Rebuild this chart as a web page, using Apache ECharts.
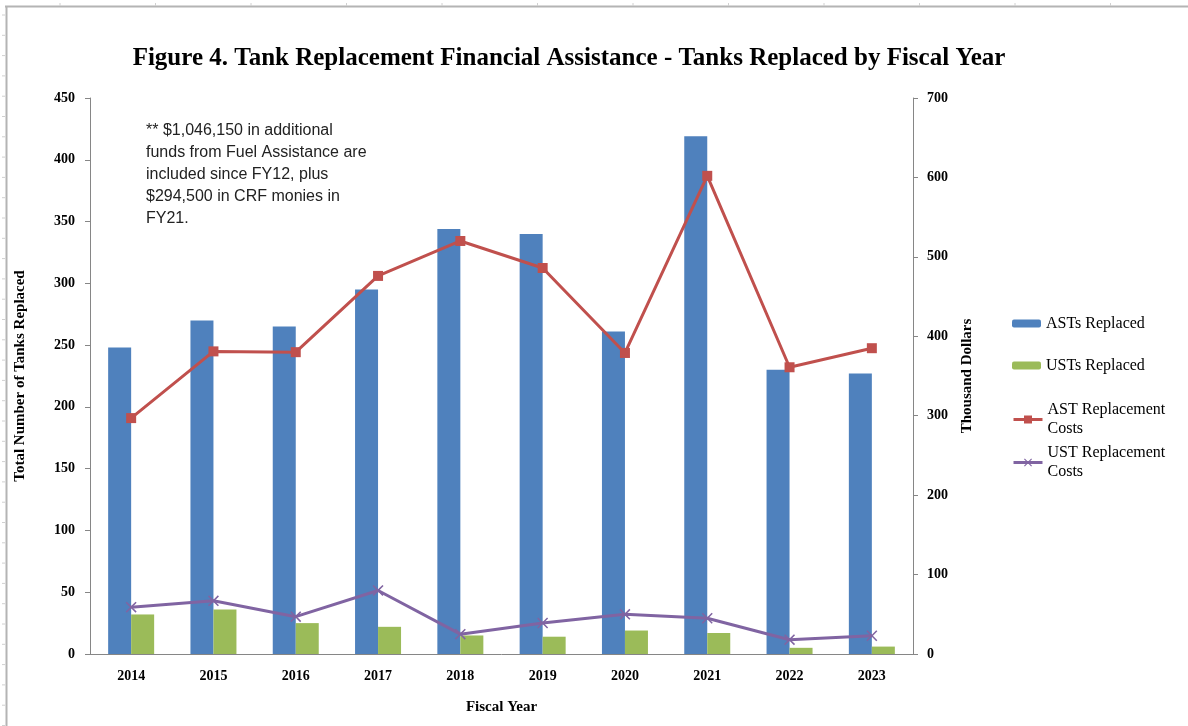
<!DOCTYPE html>
<html>
<head>
<meta charset="utf-8">
<script src="https://cdn.jsdelivr.net/npm/echarts@6/dist/echarts.min.js"></script>
<style>
  html, body { margin: 0; padding: 0; background: #fff; }
  #chart { width: 1188px; height: 726px; }
</style>
</head>
<body>
<div id="chart"></div>
<script>
// data
const years = ['2014', '2015', '2016', '2017', '2018', '2019', '2020', '2021', '2022', '2023'];
const astReplaced = [248, 270, 265, 295, 344, 340, 261, 419, 230, 227];
const ustReplaced = [32, 36, 25, 22, 15, 14, 19, 17, 5, 6];
const astCost = [297, 381, 380, 476, 520, 486, 379, 602, 361, 385]; // thousand dollars
const ustCost = [59, 67, 47, 80, 25, 39, 50, 45, 18, 23];
const note = '** $1,046,150 in additional\nfunds from Fuel Assistance are\nincluded since FY12, plus\n$294,500 in CRF monies in\nFY21.';

const serif = '"Liberation Serif", "DejaVu Serif", serif';
const axisGray = '#868686';
const xMark = 'path://M0,1L1,0L5,4L9,0L10,1L6,5L10,9L9,10L5,6L1,10L0,9L4,5Z';

// sheet border + faint cell ticks around the chart object
let frame = [
  { type: 'line', shape: { x1: 5, y1: 6.5, x2: 1188, y2: 6.5 }, style: { stroke: '#b4b4b4', lineWidth: 2 } },
  { type: 'line', shape: { x1: 6.5, y1: 6, x2: 6.5, y2: 726 }, style: { stroke: '#b4b4b4', lineWidth: 2 } }
];
for (let x = 60; x < 1188; x += 95.5) {
  frame.push({ type: 'line', shape: { x1: x, y1: 3, x2: x, y2: 6 }, style: { stroke: '#d0d0d0', lineWidth: 1 } });
}
for (let y = 15; y < 726; y += 20.3) {
  frame.push({ type: 'line', shape: { x1: 2, y1: y, x2: 5, y2: y }, style: { stroke: '#d0d0d0', lineWidth: 1 } });
}

function legendAt(name, top, twoLine, isLine) {
  return {
    data: [name],
    orient: 'vertical',
    left: 1007,
    top: top,
    itemWidth: 29,
    itemHeight: isLine ? 10 : 8,
    itemGap: 0,
    lineStyle: { width: 3 },
    formatter: n => twoLine ? n.replace(' Costs', '\nCosts') : n,
    textStyle: {
      fontFamily: serif, fontSize: 16, color: '#000',
      lineHeight: 19,
      padding: twoLine ? [19, 0, 0, 0] : 0
    }
  };
}

const chart = echarts.init(document.getElementById('chart'));
chart.setOption({
  animation: false,
  backgroundColor: '#fff',
  title: {
    text: 'Figure 4. Tank Replacement Financial Assistance - Tanks Replaced by Fiscal Year',
    left: 564,
    textAlign: 'center',
    top: 41,
    textStyle: { fontFamily: serif, fontWeight: 'bold', fontSize: 25, color: '#000' }
  },
  legend: [
    legendAt('ASTs Replaced', 309, false, false),
    legendAt('USTs Replaced', 351, false, false),
    legendAt('AST Replacement Costs', 386, true, true),
    legendAt('UST Replacement Costs', 429, true, true)
  ],
  grid: { left: 90, right: 275, top: 98, bottom: 72, outerBoundsMode: 'none' },
  xAxis: {
    type: 'category',
    data: years,
    name: 'Fiscal Year',
    nameLocation: 'middle',
    nameGap: 46,
    nameTextStyle: { fontFamily: serif, fontWeight: 'bold', fontSize: 15, color: '#000' },
    axisLine: { lineStyle: { color: axisGray } },
    axisTick: { length: 5, lineStyle: { color: axisGray } },
    axisLabel: { fontFamily: serif, fontWeight: 'bold', fontSize: 14, color: '#000', margin: 15 }
  },
  yAxis: [
    {
      type: 'value',
      min: 0, max: 450, interval: 50,
      name: 'Total Number of Tanks Replaced',
      nameLocation: 'middle',
      nameGap: 62,
      nameTextStyle: { fontFamily: serif, fontWeight: 'bold', fontSize: 15, color: '#000' },
      axisLine: { show: true, lineStyle: { color: axisGray } },
      axisTick: { show: true, length: 5, lineStyle: { color: axisGray } },
      axisLabel: { fontFamily: serif, fontWeight: 'bold', fontSize: 14, color: '#000', margin: 15 },
      splitLine: { show: false }
    },
    {
      type: 'value',
      min: 0, max: 700, interval: 100,
      name: 'Thousand Dollars',
      nameLocation: 'middle',
      nameGap: 47,
      nameTextStyle: { fontFamily: serif, fontWeight: 'bold', fontSize: 15, color: '#000' },
      axisLine: { show: true, lineStyle: { color: axisGray } },
      axisTick: { show: true, length: 5, lineStyle: { color: axisGray } },
      axisLabel: { fontFamily: serif, fontWeight: 'bold', fontSize: 14, color: '#000', margin: 14 },
      splitLine: { show: false }
    }
  ],
  series: [
    {
      name: 'ASTs Replaced', type: 'bar', data: astReplaced,
      barWidth: 23, barGap: '0%',
      itemStyle: { color: '#4F81BD' }
    },
    {
      name: 'USTs Replaced', type: 'bar', data: ustReplaced,
      barWidth: 23, barGap: '0%',
      itemStyle: { color: '#9BBB59' }
    },
    {
      name: 'AST Replacement Costs', type: 'line', yAxisIndex: 1, data: astCost,
      symbol: 'rect', symbolSize: 10,
      lineStyle: { color: '#C0504D', width: 3 },
      itemStyle: { color: '#C0504D' }
    },
    {
      name: 'UST Replacement Costs', type: 'line', yAxisIndex: 1, data: ustCost,
      symbol: xMark, symbolSize: 11,
      lineStyle: { color: '#8064A2', width: 3 },
      itemStyle: { color: '#8064A2' }
    }
  ],
  graphic: frame.concat([
    {
      type: 'text',
      left: 146,
      top: 120,
      style: {
        text: note,
        font: '16px "Liberation Sans", Arial, sans-serif',
        fill: '#222',
        lineHeight: 22
      }
    }
  ])
});
</script>
</body>
</html>
